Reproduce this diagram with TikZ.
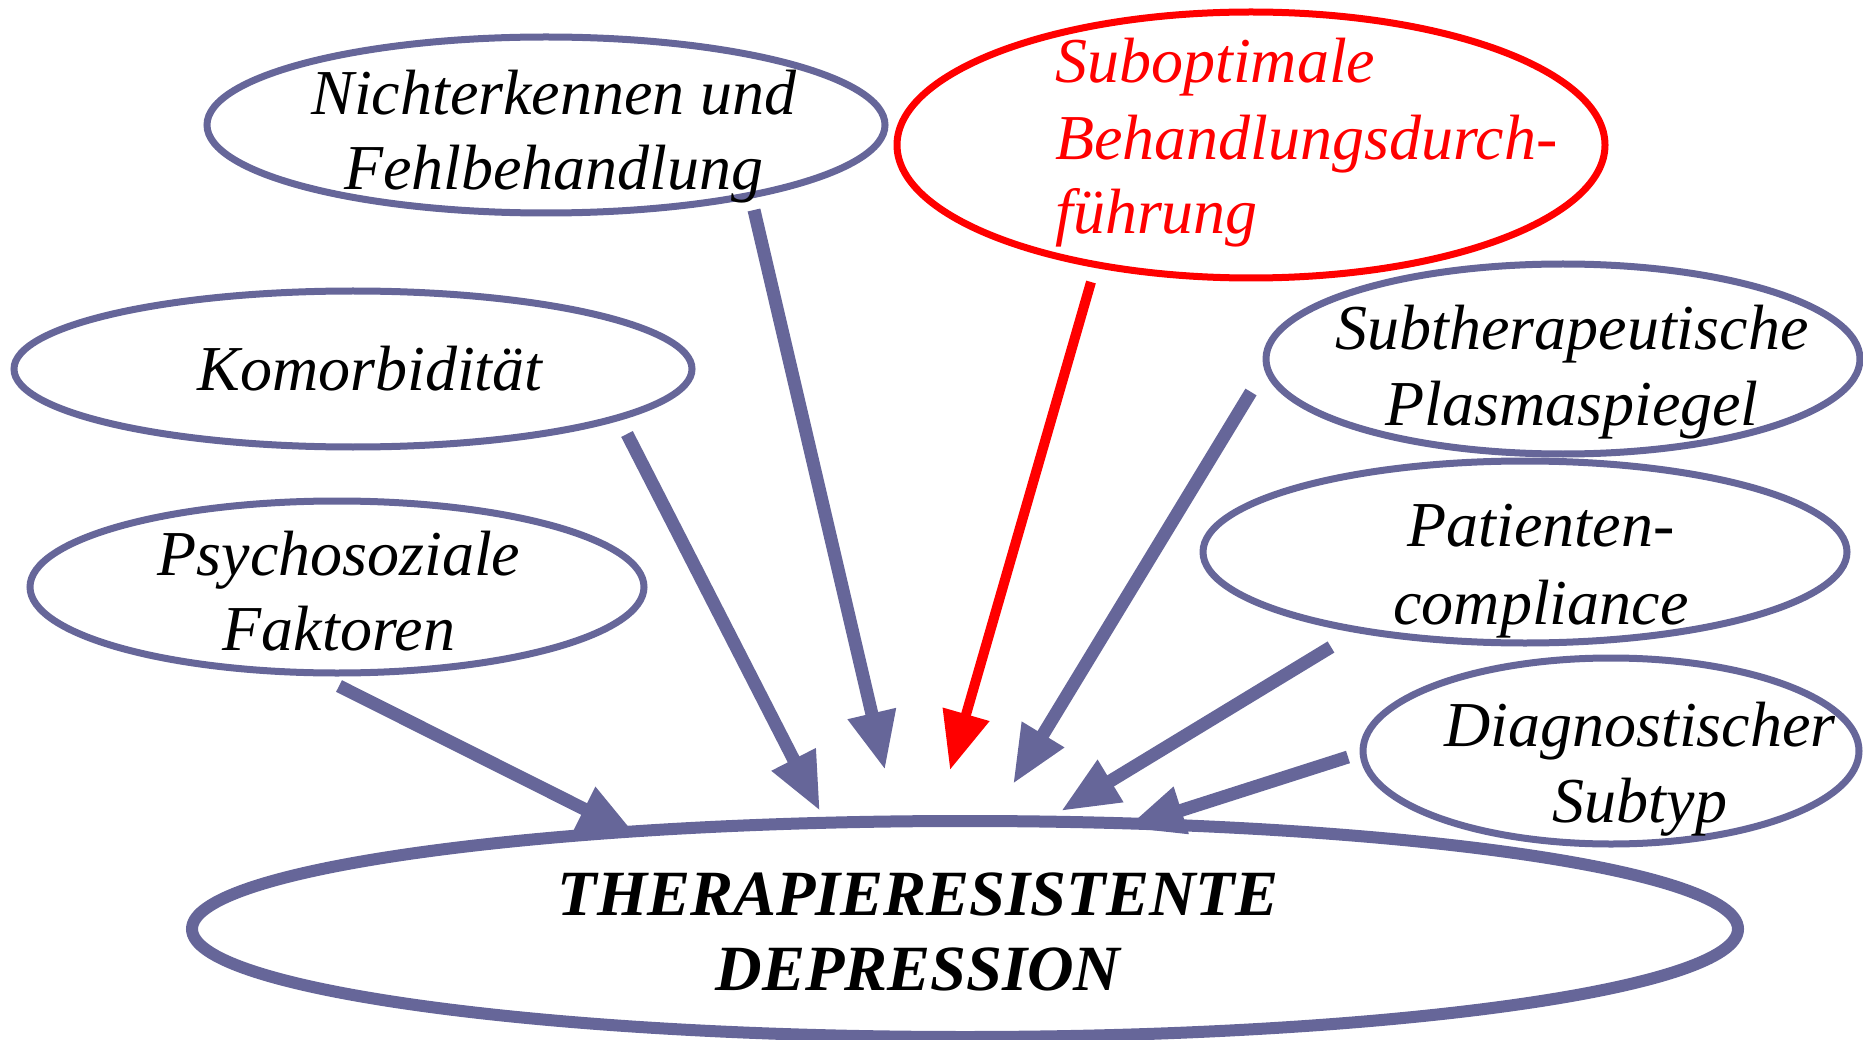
\documentclass[tikz,border=0pt]{standalone}
\usepackage{fontspec}
\setmainfont{Liberation Serif}
\usetikzlibrary{arrows.meta,shapes.geometric}
\definecolor{bl}{RGB}{102,102,153}
\definecolor{rd}{RGB}{255,0,0}
\begin{document}
\begin{tikzpicture}[x=1pt,y=-1pt,
  oval/.style={draw=bl,line width=7pt,ellipse,inner sep=0pt},
  lbl/.style={font=\fontsize{64}{76}\selectfont\itshape,align=center,inner sep=0pt,anchor=base},
  arr/.style={draw=bl,line width=13pt,-{Triangle[width=46pt,length=58pt]}},
  rarr/.style={draw=rd,line width=10pt,-{Triangle[width=46pt,length=58pt]}}]
\useasboundingbox (0,0) rectangle (1863,1040);
% ellipses
\node[oval,minimum width=678pt,minimum height=176pt] (e1) at (546,125) {};
\node[oval,draw=rd,minimum width=708pt,minimum height=266pt] (e2) at (1251,145) {};
\node[oval,minimum width=678pt,minimum height=156pt] (e3) at (353,369) {};
\node[oval,minimum width=594pt,minimum height=190pt] (e4) at (1563,359) {};
\node[oval,minimum width=614pt,minimum height=172pt] (e5) at (337,587) {};
\node[oval,minimum width=644pt,minimum height=182pt] (e6) at (1525,552) {};
\node[oval,minimum width=496pt,minimum height=186pt] (e7) at (1611,751) {};
\node[oval,line width=12pt,minimum width=1546pt,minimum height=216pt] (em) at (965,929) {};
% texts
\node[lbl] (t1a) at (554,115) {Nichterkennen und};
\node[lbl] (t1b) at (554,190) {Fehlbehandlung};
\node[lbl,anchor=base west,text=rd] (t2a) at (1055,83) {Suboptimale};
\node[lbl,anchor=base west,text=rd] (t2b) at (1055,160) {Behandlungsdurch-};
\node[lbl,anchor=base west,text=rd] (t2c) at (1055,234) {führung};
\node[lbl] (t3) at (370,390) {Komorbidität};
\node[lbl] (t4a) at (1572,350) {Subtherapeutische};
\node[lbl] (t4b) at (1572,425) {Plasmaspiegel};
\node[lbl] (t5a) at (339,575) {Psychosoziale};
\node[lbl] (t5b) at (339,650) {Faktoren};
\node[lbl] (t6a) at (1541,546) {Patienten-};
\node[lbl] (t6b) at (1541,624) {compliance};
\node[lbl] (t7a) at (1640,746) {Diagnostischer};
\node[lbl] (t7b) at (1640,822) {Subtyp};
\node[lbl,font=\fontsize{64.5}{76}\selectfont\bfseries\itshape] (tma) at (918,915) {THERAPIERESISTENTE};
\node[lbl,font=\fontsize{64.5}{76}\selectfont\bfseries\itshape] (tmb) at (918,990) {DEPRESSION};
% arrow ends
\coordinate (s1) at (754,210); \coordinate (d1) at (885,770);
\coordinate (s3) at (627,434); \coordinate (d3) at (820,811);
\coordinate (s5) at (339,686); \coordinate (d5) at (636,835);
\coordinate (s2) at (1091,282); \coordinate (d2) at (950,770);
\coordinate (s4) at (1251,392); \coordinate (d4) at (1013,784);
\coordinate (s6) at (1331,647); \coordinate (d6) at (1061,811);
\coordinate (s7) at (1348,757); \coordinate (d7) at (1126,828);
\draw[arr] (s1) -- (d1);
\draw[arr] (s3) -- (d3);
\draw[arr] (s5) -- (d5);
\draw[rarr] (s2) -- (d2);
\draw[arr] (s4) -- (d4);
\draw[arr] (s6) -- (d6);
\draw[arr] (s7) -- (d7);
\end{tikzpicture}
\end{document}
